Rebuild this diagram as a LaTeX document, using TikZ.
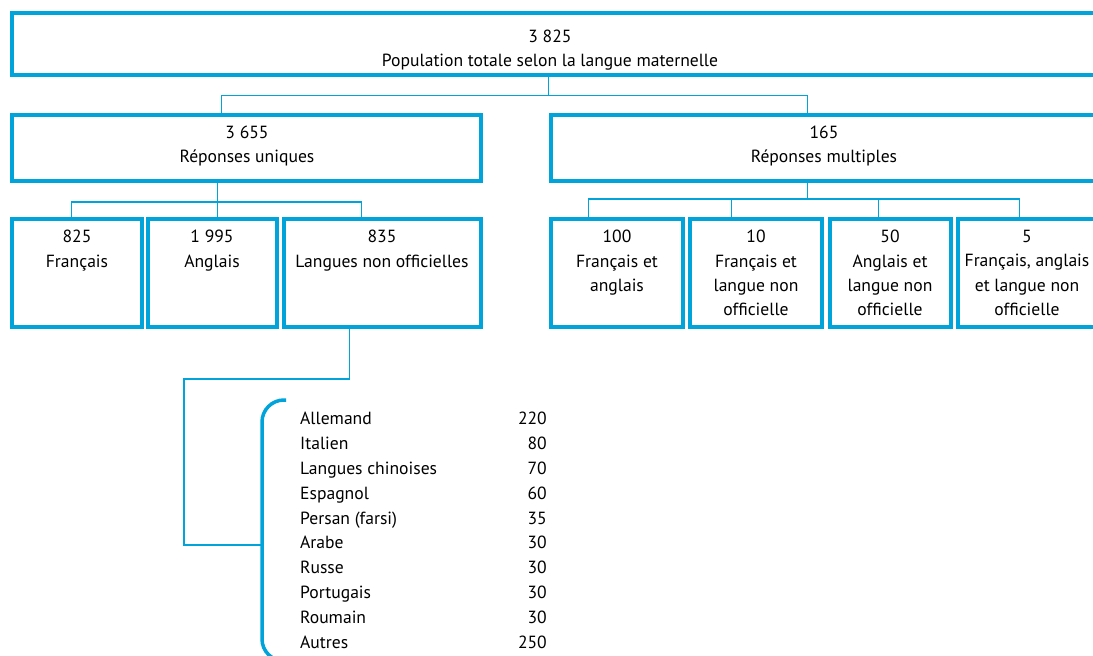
\documentclass[tikz,border=0pt]{standalone}
\usepackage{fontspec}
\setmainfont{PT Sans}
\usetikzlibrary{calc}
\definecolor{statblue}{RGB}{0,163,218}

\begin{document}
\begin{tikzpicture}[x=1pt,y=-1pt,
    box/.style={draw=statblue, line width=3.5pt, inner sep=0pt, anchor=north west},
    lbl/.style={align=center, inner sep=0pt, anchor=north, font=\fontsize{17.6}{24.4}\selectfont},
    item/.style={inner sep=0pt, font=\fontsize{17.6}{24.4}\selectfont},
    link/.style={draw=statblue, line width=1.2pt}]
    \useasboundingbox (0,0) rectangle (1093,656);
    \clip (0,0) rectangle (1093,656);

    % boxes
    \node[box, minimum width=1087pt, minimum height=62pt] (top) at (10,11) {};
    \node[box, minimum width=469pt, minimum height=66pt] (uni) at (10,113) {};
    \node[box, minimum width=550pt, minimum height=66pt] (mul) at (549,113) {};
    \node[box, minimum width=130pt, minimum height=108pt] (fr) at (10,217) {};
    \node[box, minimum width=129pt, minimum height=108pt] (en) at (146,217) {};
    \node[box, minimum width=197pt, minimum height=108pt] (lno) at (282,217) {};
    \node[box, minimum width=132pt, minimum height=108pt] (fa) at (549,217) {};
    \node[box, minimum width=132pt, minimum height=108pt] (fnl) at (688,217) {};
    \node[box, minimum width=121pt, minimum height=108pt] (anl) at (828,217) {};
    \node[box, minimum width=142pt, minimum height=108pt] (fanl) at (956,217) {};

    % texts
    \node[lbl] (ttop) at (550,29.5) {3 825\\Population totale selon la langue maternelle};
    \node[lbl] (tuni) at (247,125.5) {3 655\\Réponses uniques};
    \node[lbl] (tmul) at (824,125.5) {165\\Réponses multiples};
    \node[lbl] (tfr) at (77,230) {825\\Français};
    \node[lbl] (ten) at (212,230) {1 995\\Anglais};
    \node[lbl] (tlno) at (382,230) {835\\Langues non officielles};
    \node[lbl] (tfa) at (617,230) {100\\Français et\\anglais};
    \node[lbl] (tfnl) at (756,230) {10\\Français et\\langue non\\officielle};
    \node[lbl] (tanl) at (890,230) {50\\Anglais et\\langue non\\officielle};
    \node[lbl] (tfanl) at (1027,230) {5\\Français, anglais\\et langue non\\officielle};

    % connectors
    \draw[link] ([xshift=-7pt]top.south) -- ++(0,19) coordinate (jt);
    \draw[link] (jt) -| ([xshift=-25pt]uni.north);
    \draw[link] (jt) -| ([xshift=-18pt]mul.north);

    \draw[link] ([xshift=-29pt]uni.south) -- ++(0,19.5) coordinate (ju);
    \draw[link] (ju) -| ([xshift=-5pt]fr.north);
    \draw[link] (ju) -- ([xshift=5pt]en.north);
    \draw[link] (ju) -| ([xshift=-21pt]lno.north);

    \draw[link] ([xshift=-18pt]mul.south) -- ++(0,16.5) coordinate (jm);
    \draw[link] (jm) -| ([xshift=-28pt]fa.north);
    \draw[link] (jm) -| ([xshift=-24pt]fnl.north);
    \draw[link] (jm) -| ([xshift=-12pt]anl.north);
    \draw[link] (jm) -| ([xshift=-9pt]fanl.north);

    % list of non-official languages
    \coordinate (kink) at (184,379);
    \coordinate (br) at (262,545);
    \draw[link] ([xshift=-33pt]lno.south) |- (kink) |- (br);
    \draw[draw=statblue, line width=3.5pt, rounded corners=22pt] (286,400) -| (262,661) -- (292,661);

    \foreach \name/\val [count=\i] in {Allemand/220, Italien/80, Langues chinoises/70, Espagnol/60,
        Persan (farsi)/35, Arabe/30, Russe/30, Portugais/30, Roumain/30, Autres/250} {
        \node[item, anchor=base west] (lang\i) at (300, 400.2+24.78*\i) {\name};
        \node[item, anchor=base east] (num\i) at (547, 400.2+24.78*\i) {\val};
    }
\end{tikzpicture}
\end{document}
